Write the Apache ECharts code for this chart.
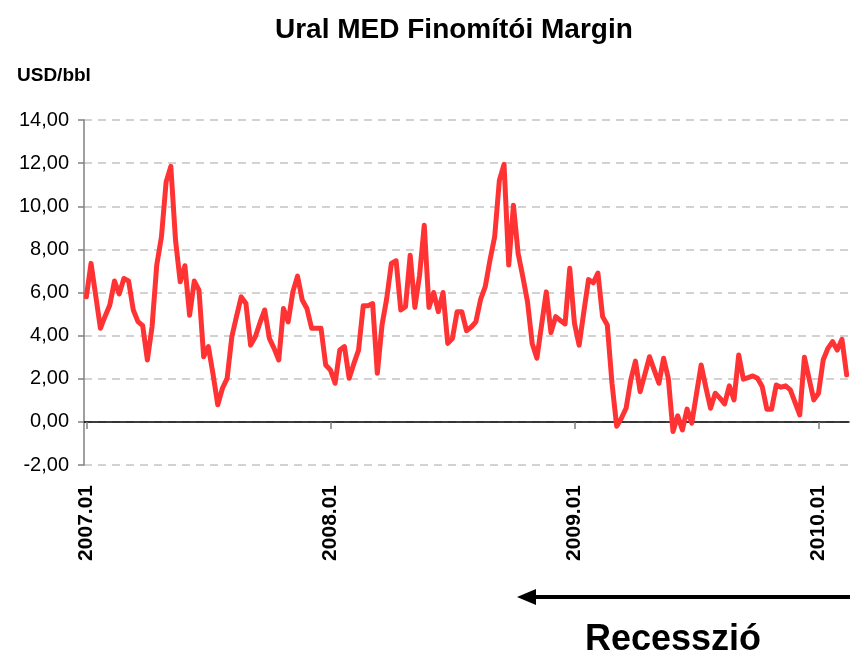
<!DOCTYPE html>
<html>
<head>
<meta charset="utf-8">
<script src="https://cdn.jsdelivr.net/npm/echarts@6/dist/echarts.min.js"></script>
<style>
html,body{margin:0;padding:0;background:#fff;}
#chart{width:850px;height:657px;}
</style>
</head>
<body>
<div id="chart"></div>
<script>
// Year tick labels and the weekly index where each year begins
const yearLabels = ['2007.01', '2008.01', '2009.01', '2010.01'];
const yearStartIdx = [0, 52, 104, 156];

// Weekly Ural MED refining margin, USD/bbl (2007.01 – 2010.02)
const margin = [
  5.80, 7.35, 5.85, 4.34, 4.90, 5.42, 6.53, 5.93, 6.65, 6.54,
  5.19, 4.65, 4.46, 2.87, 4.41, 7.27, 8.58, 11.13, 11.85, 8.43,
  6.50, 7.24, 4.95, 6.53, 6.11, 3.02, 3.49, 2.20, 0.79, 1.56,
  2.02, 3.95, 4.90, 5.80, 5.49, 3.56, 3.95, 4.60, 5.19, 3.87,
  3.41, 2.87, 5.26, 4.64, 6.03, 6.76, 5.65, 5.26, 4.34, 4.34,
  4.34, 2.64, 2.41, 1.79, 3.33, 3.49, 2.02, 2.70, 3.33, 5.39,
  5.39, 5.49, 2.25, 4.49, 5.72, 7.35, 7.47, 5.19, 5.34, 7.73,
  5.31, 6.80, 9.12, 5.31, 6.00, 5.11, 6.00, 3.64, 3.87, 5.11,
  5.11, 4.23, 4.40, 4.64, 5.68, 6.27, 7.50, 8.58, 11.20, 11.94,
  7.27, 10.05, 7.81, 6.73, 5.57, 3.64, 2.95, 4.50, 6.03, 4.14,
  4.88, 4.70, 4.54, 7.12, 4.57, 3.56, 5.10, 6.60, 6.45, 6.90,
  4.88, 4.49, 1.79, -0.20, 0.17, 0.63, 1.94, 2.82, 1.40, 2.20,
  3.02, 2.40, 1.79, 2.95, 2.02, -0.45, 0.28, -0.37, 0.59, -0.06,
  1.30, 2.64, 1.60, 0.63, 1.33, 1.10, 0.83, 1.67, 1.02, 3.10,
  1.98, 2.05, 2.13, 2.02, 1.64, 0.59, 0.59, 1.71, 1.61, 1.67,
  1.48, 0.90, 0.32, 3.00, 2.00, 1.02, 1.33, 2.87, 3.41, 3.72,
  3.33, 3.83, 2.18
];

const yTicks = { min: -2, max: 14, step: 2 };

// Category labels: year label at the first week of each year
const categories = margin.map((_, i) => {
  const k = yearStartIdx.indexOf(i);
  return k >= 0 ? yearLabels[k] : 'w' + i;
});
const isYearStart = (i) => yearStartIdx.indexOf(i) >= 0;

const FONT = '"Liberation Sans", Arial, sans-serif';
const chart = echarts.init(document.getElementById('chart'), null, { renderer: 'canvas' });

chart.setOption({
  animation: false,
  backgroundColor: '#ffffff',
  title: {
    text: 'Ural MED Finomítói Margin',
    left: 270,
    top: 11,
    textStyle: { fontFamily: FONT, fontSize: 28, fontWeight: 'bold', color: '#000' }
  },
  grid: { left: 84, right: 1, top: 120, bottom: 192, containLabel: false },
  xAxis: {
    type: 'category',
    data: categories,
    boundaryGap: true,
    axisLine: { onZero: true, lineStyle: { color: '#000', width: 1.5 } },
    axisTick: {
      show: true,
      alignWithLabel: true,
      interval: (i) => isYearStart(i),
      length: 7,
      lineStyle: { color: '#808080', width: 1.5 }
    },
    axisLabel: {
      interval: (i) => isYearStart(i),
      rotate: 90,
      margin: 20,
      fontFamily: FONT,
      fontSize: 21,
      fontWeight: 'bold',
      color: '#000'
    },
    splitLine: { show: false }
  },
  yAxis: {
    type: 'value',
    min: yTicks.min,
    max: yTicks.max,
    interval: yTicks.step,
    axisLine: { show: true, lineStyle: { color: '#808080', width: 1.5 } },
    axisTick: { show: true, inside: false, length: 6, lineStyle: { color: '#808080', width: 1.5 } },
    axisLabel: {
      formatter: (v) => v.toFixed(2).replace('.', ','),
      margin: 15,
      fontFamily: FONT,
      fontSize: 20,
      color: '#000'
    },
    splitLine: { show: true, lineStyle: { color: '#c4c4c4', width: 1.5, type: [8, 6] } }
  },
  series: [{
    type: 'line',
    data: margin,
    showSymbol: false,
    symbol: 'none',
    smooth: false,
    lineStyle: { color: '#ff3333', width: 5, join: 'round', cap: 'round' },
    z: 3
  }],
  graphic: [
    {
      type: 'text', left: 17, top: 66,
      style: { text: 'USD/bbl', fontFamily: FONT, fontSize: 19, fontWeight: 'bold', fill: '#000' }
    },
    {
      type: 'line',
      shape: { x1: 532, y1: 597, x2: 850, y2: 597 },
      style: { stroke: '#000', lineWidth: 4 }
    },
    {
      type: 'polygon',
      shape: { points: [[517, 597], [536, 589], [536, 605]] },
      style: { fill: '#000' }
    },
    {
      type: 'text', x: 673, y: 640,
      style: {
        text: 'Recesszió', fontFamily: FONT, fontSize: 36, fontWeight: 'bold',
        fill: '#000', align: 'center', verticalAlign: 'middle'
      }
    }
  ]
});
</script>
</body>
</html>
